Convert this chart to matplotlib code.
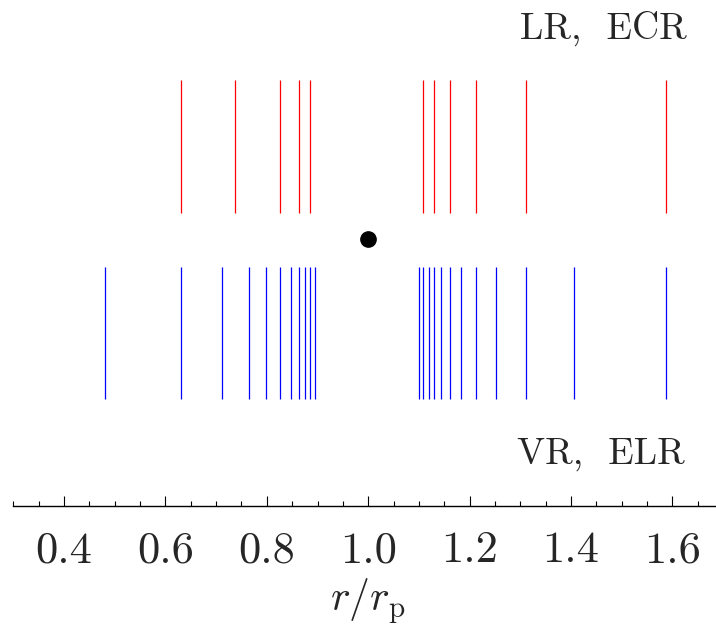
import matplotlib
matplotlib.use("Agg")
import matplotlib.pyplot as plt

plt.rcParams['font.family'] = ['cmr10', 'DejaVu Serif']
plt.rcParams['mathtext.fontset'] = 'cm'
plt.rcParams['axes.unicode_minus'] = False

# resonance locations, r / r_p
red_r = [0.630, 0.737, 0.826, 0.863, 0.886,
         1.109, 1.130, 1.161, 1.212, 1.311, 1.588]
blue_r = [0.481, 0.630, 0.712, 0.764, 0.799, 0.826, 0.847, 0.863, 0.876, 0.886, 0.896,
          1.100, 1.109, 1.119, 1.130, 1.144, 1.161, 1.183, 1.212, 1.253, 1.311, 1.406, 1.588]
planet_r = [1.0]
tick_vals = [0.4, 0.6, 0.8, 1.0, 1.2, 1.4, 1.6]
tick_labels = ['0.4', '0.6', '0.8', '1.0', '1.2', '1.4', '1.6']

txt_col = '#262626'

fig = plt.figure(figsize=(7.16, 6.31), dpi=100)
ax = fig.add_axes([13.3 / 716, 125 / 631, 1.4 * 507 / 716, 506 / 631])

ax.vlines(red_r, 0.579, 0.842, colors='red', lw=0.9)
ax.vlines(blue_r, 0.211, 0.472, colors='blue', lw=0.9)
ax.plot(planet_r, [0.528], 'o', color='black', ms=11)

ax.text(1.628, 0.923, 'LR,  ECR', ha='right', va='baseline', fontsize=27, color=txt_col)
ax.text(1.624, 0.083, 'VR,  ELR', ha='right', va='baseline', fontsize=27, color=txt_col)

ax.set_xlim(0.3, 1.7)
ax.set_ylim(0, 1)
ax.set_xticks(tick_vals, tick_labels)
ax.set_xticks([0.3 + 0.05 * i for i in range(29)], minor=True)
ax.set_yticks([])
for s in ['top', 'left', 'right']:
    ax.spines[s].set_visible(False)
ax.spines['bottom'].set_linewidth(1.0)
ax.tick_params(axis='x', which='major', direction='in', length=7.2, width=0.8,
               labelsize=32, pad=18, labelcolor=txt_col)
ax.tick_params(axis='x', which='minor', direction='in', length=3.6, width=0.8)
ax.set_xlabel(r'$r/r_{\rm p}$', fontsize=30, labelpad=4, color=txt_col)

fig.savefig('out.png', dpi=100)
